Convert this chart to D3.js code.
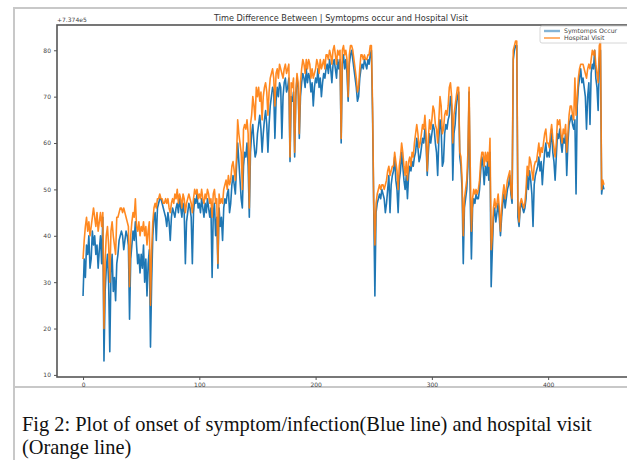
<!DOCTYPE html>
<html>
<head>
<meta charset="utf-8">
<script src="https://cdn.jsdelivr.net/npm/d3@7"></script>
<style>
  body { margin: 0; background: #fff; }
  svg { display: block; }
  .tick text { fill: #444; }
</style>
</head>
<body>
<svg id="chart"></svg>
<script>
const chartTitle = 'Time Difference Between | Symtopms occur and Hospital Visit';
const offsetLabel = '+7.374e5';
const seriesNames = ['Symtomps Occur', 'Hospital Visit'];
const xTicks = [0, 100, 200, 300, 400];
const yTicks = [10, 20, 30, 40, 50, 60, 70, 80];
const captionLines = [
  'Fig 2: Plot of onset of symptom/infection(Blue line) and hospital visit',
  '(Orange line)'
];

// values shown relative to the +7.374e5 offset, one per record index
const symptomOccur = [
  27, 35, 31, 38, 36, 40, 33, 35, 41, 38,
  40, 36, 38, 33, 37, 40, 34, 44, 13, 28,
  33, 36, 30, 15, 32, 36, 28, 31, 26, 34,
  36, 39, 40, 41, 40, 37, 39, 41, 40, 38,
  22, 35, 38, 41, 39, 43, 38, 34, 36, 32,
  36, 33, 38, 30, 35, 27, 34, 37, 16, 30,
  40, 44, 45, 39, 46, 47, 48, 48, 47, 46,
  45, 44, 42, 45, 43, 39, 44, 46, 45, 44,
  46, 47, 45, 48, 46, 44, 47, 45, 34, 43,
  45, 47, 46, 44, 34, 45, 48, 47, 49, 46,
  47, 45, 48, 46, 44, 47, 45, 48, 46, 44,
  46, 31, 45, 47, 40, 44, 33, 46, 42, 44,
  39, 46, 48, 47, 49, 50, 45, 47, 51, 53,
  51, 49, 55, 60, 56, 52, 48, 46, 55, 58,
  57, 60, 55, 44, 58, 62, 64, 60, 57, 58,
  62, 64, 66, 63, 58, 62, 65, 67, 64, 58,
  64, 68, 70, 72, 71, 61, 69, 72, 70, 73,
  72, 61, 70, 73, 74, 71, 72, 74, 56, 70,
  69, 71, 57, 70, 74, 72, 61, 70, 73, 75,
  74, 72, 76, 73, 75, 74, 71, 73, 68, 72,
  74, 73, 76, 72, 74, 70, 73, 75, 74, 76,
  77, 75, 78, 76, 73, 77, 78, 76, 74, 78,
  76, 78, 60, 77, 79, 76, 78, 75, 69, 77,
  79, 80, 78, 76, 74, 72, 69, 70, 74, 76,
  77, 76, 78, 77, 76, 78, 77, 79, 80, 66,
  46, 27, 45, 47, 48, 49, 48, 50, 49, 48,
  45, 47, 50, 53, 45, 51, 53, 54, 57, 52,
  50, 45, 52, 54, 58, 55, 52, 50, 53, 48,
  53, 55, 54, 56, 55, 57, 58, 61, 59, 56,
  57, 59, 61, 60, 63, 60, 53, 58, 62, 60,
  62, 64, 63, 60, 58, 53, 61, 65, 63, 55,
  56, 62, 64, 63, 65, 66, 70, 68, 52, 62,
  64, 68, 70, 71, 57, 55, 50, 34, 46, 48,
  50, 55, 71, 48, 35, 46, 48, 47, 49, 48,
  48, 50, 54, 57, 55, 51, 55, 53, 56, 52,
  58, 29, 37, 44, 46, 43, 45, 47, 44, 40,
  44, 47, 49, 46, 48, 50, 51, 53, 49, 47,
  78, 80, 81, 81, 44, 42, 46, 47, 46, 45,
  46, 48, 53, 50, 54, 52, 49, 42, 51, 53,
  54, 55, 57, 54, 56, 51, 55, 58, 60, 57,
  58, 57, 60, 63, 58, 56, 52, 57, 62, 61,
  63, 60, 58, 61, 60, 62, 53, 60, 64, 65,
  66, 64, 63, 65, 49, 68, 72, 74, 76, 73,
  74, 72, 70, 63, 70, 73, 64, 75, 77, 76,
  80, 74, 72, 67, 78, 80, 49, 51, 50
];

const hospitalVisit = [
  35, 39, 42, 44, 41, 43, 40, 42, 44, 46,
  44, 42, 45, 41, 43, 45, 42, 45, 20, 35,
  40, 42, 38, 30, 41, 43, 40, 38, 36, 44,
  44, 45, 46, 46, 45, 46, 45, 44, 43, 42,
  29, 40, 43, 45, 44, 48, 42, 41, 43, 40,
  42, 41, 43, 40, 42, 38, 41, 43, 25, 37,
  43, 46, 47, 46, 48, 48, 49, 48, 48, 47,
  47, 48, 47, 48, 46, 45, 47, 48, 47, 49,
  48, 50, 47, 49, 48, 46, 49, 48, 45, 47,
  48, 49, 48, 47, 45, 48, 50, 49, 50, 48,
  49, 48, 50, 48, 47, 49, 48, 50, 49, 47,
  48, 44, 49, 50, 47, 48, 34, 49, 47, 48,
  47, 50, 51, 52, 50, 53, 51, 52, 55, 56,
  54, 52, 57, 65, 62, 60, 58, 50, 63, 64,
  63, 65, 62, 46, 64, 66, 70, 68, 65, 72,
  70, 72, 69, 71, 65, 70, 72, 73, 71, 66,
  71, 74, 75, 76, 74, 68, 75, 76, 74, 77,
  76, 75, 74, 76, 77, 75, 76, 77, 57, 73,
  72, 74, 58, 71, 75, 73, 62, 73, 76, 78,
  77, 75, 78, 76, 78, 77, 74, 76, 74, 75,
  76, 78, 77, 75, 78, 76, 77, 78, 76, 79,
  79, 78, 80, 79, 77, 80, 81, 79, 77, 80,
  79, 80, 61, 80, 81, 79, 80, 78, 70, 79,
  81, 81, 80, 78, 76, 74, 71, 72, 76, 79,
  79, 78, 79, 78, 78, 79, 79, 81, 81, 68,
  47, 38, 47, 49, 50, 51, 50, 51, 51, 50,
  51, 52, 54, 55, 53, 54, 55, 55, 58, 56,
  54, 50, 55, 57, 60, 58, 55, 53, 56, 52,
  56, 57, 55, 58, 57, 60, 62, 64, 62, 59,
  60, 62, 64, 63, 66, 62, 54, 61, 65, 63,
  65, 68, 67, 64, 63, 60, 65, 70, 68, 62,
  63, 66, 67, 66, 68, 72, 73, 70, 60, 66,
  68, 70, 72, 72, 58, 57, 52, 40, 48, 50,
  52, 58, 72, 55, 41, 48, 50, 49, 50, 49,
  50, 52, 56, 58, 58, 55, 58, 56, 58, 55,
  61, 37, 40, 46, 48, 46, 47, 49, 46, 41,
  46, 49, 51, 48, 50, 52, 53, 54, 50, 48,
  80, 81, 82, 82, 47, 43, 47, 48, 47, 46,
  47, 50, 55, 53, 57, 56, 54, 52, 55, 56,
  56, 58, 60, 57, 59, 58, 60, 62, 63, 60,
  60, 59, 62, 64, 61, 59, 57, 60, 65, 64,
  65, 62, 60, 63, 62, 64, 58, 62, 66, 68,
  68, 66, 65, 74, 66, 70, 74, 76, 77, 77,
  77, 76, 75, 74, 76, 77, 76, 78, 80, 79,
  80, 77, 75, 73, 81, 82, 50, 52, 51
];

const W = 627, H = 460;
const margin = { top: 25, left: 57 };
const plotW = 573;   // axes box runs past the right edge, as in the source image
const plotH = 352;

const svg = d3.select('#chart')
    .attr('width', W)
    .attr('height', H);

// outer page frame lines
const frame = svg.append('g').attr('stroke', '#c8c8c8').attr('stroke-width', 2);
frame.append('line').attr('x1', 13).attr('x2', W).attr('y1', 8).attr('y2', 8);
frame.append('line').attr('x1', 14).attr('x2', 14).attr('y1', 8).attr('y2', H);
frame.append('line').attr('x1', 14).attr('x2', W).attr('y1', 387).attr('y2', 387);

// matplotlib-like 5% margins around the data
const n = symptomOccur.length;
const xPad = (n - 1) * 0.05;
const yMin = d3.min([d3.min(symptomOccur), d3.min(hospitalVisit)]);
const yMax = d3.max([d3.max(symptomOccur), d3.max(hospitalVisit)]);
const yPad = (yMax - yMin) * 0.05;

const xScale = d3.scaleLinear()
    .domain([-xPad, n - 1 + xPad])
    .range([0, plotW]);

const yScale = d3.scaleLinear()
    .domain([yMin - yPad, yMax + yPad])
    .range([plotH, 0]);

const g = svg.append('g')
    .attr('transform', 'translate(' + margin.left + ',' + margin.top + ')');

const line = d3.line()
    .x((d, i) => xScale(i))
    .y(d => yScale(d));

g.append('path')
    .datum(symptomOccur)
    .attr('fill', 'none')
    .attr('stroke', '#1f77b4')
    .attr('stroke-width', 1.6)
    .attr('stroke-linejoin', 'round')
    .attr('d', line);

g.append('path')
    .datum(hospitalVisit)
    .attr('fill', 'none')
    .attr('stroke', '#ff7f0e')
    .attr('stroke-width', 1.6)
    .attr('stroke-opacity', 0.92)
    .attr('stroke-linejoin', 'round')
    .attr('d', line);

// axes box
g.append('rect')
    .attr('x', 0).attr('y', 0)
    .attr('width', plotW).attr('height', plotH)
    .attr('fill', 'none')
    .attr('stroke', '#555')
    .attr('stroke-width', 1.6);

const xAxis = d3.axisBottom(xScale).tickValues(xTicks).tickSize(3).tickPadding(3);
const yAxis = d3.axisLeft(yScale).tickValues(yTicks).tickSize(3).tickPadding(3);

g.append('g')
    .attr('class', 'x axis')
    .attr('transform', 'translate(0,' + plotH + ')')
    .call(xAxis)
    .call(a => a.select('.domain').remove());

g.append('g')
    .attr('class', 'y axis')
    .call(yAxis)
    .call(a => a.select('.domain').remove());

g.selectAll('.tick line').attr('stroke', '#555');
g.selectAll('.tick text')
    .attr('font-family', 'DejaVu Sans, sans-serif')
    .attr('font-size', 6);

g.append('text')
    .attr('x', 0)
    .attr('y', -3)
    .attr('font-family', 'DejaVu Sans, sans-serif')
    .attr('font-size', 6)
    .attr('fill', '#444')
    .text(offsetLabel);

g.append('text')
    .attr('x', 284)
    .attr('y', -4)
    .attr('text-anchor', 'middle')
    .attr('font-family', 'DejaVu Sans, sans-serif')
    .attr('font-size', 8.2)
    .attr('fill', '#333')
    .text(chartTitle);

// legend
const legend = svg.append('g').attr('transform', 'translate(540,26)');
legend.append('rect')
    .attr('width', 100).attr('height', 17)
    .attr('rx', 2)
    .attr('fill', '#fff')
    .attr('fill-opacity', 0.85)
    .attr('stroke', '#ccc')
    .attr('stroke-width', 0.8);

const legendColors = ['#1f77b4', '#ff7f0e'];
const item = legend.selectAll('.item')
    .data(seriesNames)
  .enter().append('g')
    .attr('class', 'item')
    .attr('transform', (d, i) => 'translate(0,' + (5 + i * 7) + ')');

item.append('line')
    .attr('x1', 4).attr('x2', 20)
    .attr('stroke', (d, i) => legendColors[i])
    .attr('stroke-width', (d, i) => i === 0 ? 2.4 : 1.2)
    .attr('stroke-opacity', (d, i) => i === 0 ? 0.55 : 1);

item.append('text')
    .attr('x', 24)
    .attr('dy', '0.35em')
    .attr('font-family', 'DejaVu Sans, sans-serif')
    .attr('font-size', 6.2)
    .attr('fill', '#444')
    .text(d => d);

// figure caption under the frame
svg.append('g')
    .selectAll('text')
    .data(captionLines)
  .enter().append('text')
    .attr('x', 22)
    .attr('y', (d, i) => 431 + i * 23)
    .attr('font-family', 'Liberation Serif, Times New Roman, serif')
    .attr('font-size', 20.4)
    .attr('fill', '#111')
    .text(d => d);
</script>
</body>
</html>
